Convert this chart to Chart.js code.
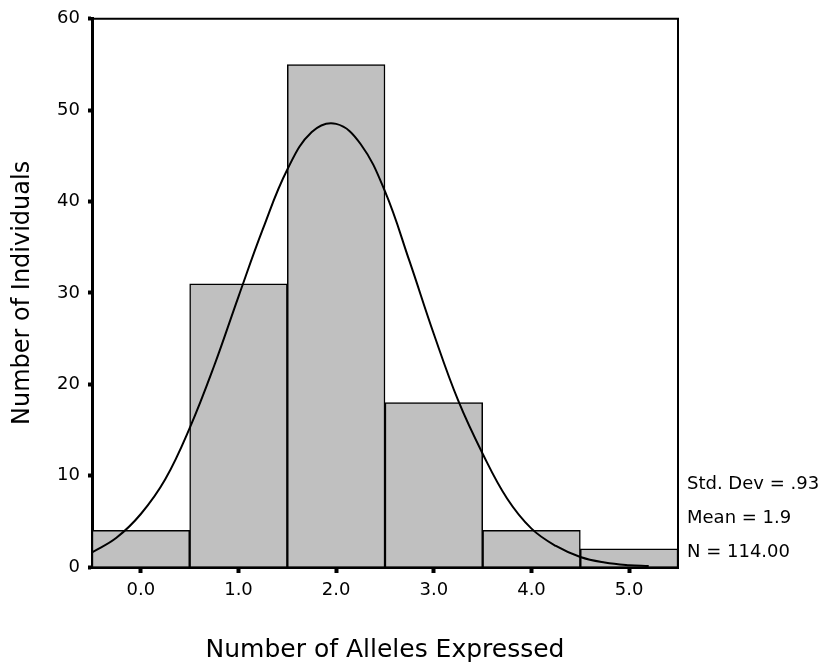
<!DOCTYPE html>
<html>
<head>
<meta charset="utf-8">
<script src="https://cdn.jsdelivr.net/npm/chart.js@4"></script>
<style>
  body { margin: 0; background: #fff; }
</style>
</head>
<body>
<canvas id="histograma" width="823" height="669"></canvas>
<script>
// dados do histograma
const alelos = [0, 1, 2, 3, 4, 5];
const individuos = [4, 31, 55, 18, 4, 2];
const xTicks = [0, 1, 2, 3, 4, 5];

// curva normal
const curvaX = [-0.5, -0.25, 0, 0.25, 0.5, 0.75, 1.0, 1.25, 1.5, 1.75, 2.0, 2.25, 2.5, 2.75, 3.0, 3.25, 3.5, 3.75, 4.0, 4.25, 4.5, 4.75, 5.0, 5.2];
const curvaY = [1.6, 3.2, 5.8, 9.6, 15.2, 22, 29.6, 37, 43.5, 47.6, 48.5, 46.3, 41.1, 33.5, 25.5, 18.2, 12.4, 7.5, 4.2, 2.3, 1.1, 0.5, 0.2, 0.1];

const estatisticas = ['Std. Dev = .93', 'Mean = 1.9', 'N = 114.00'];

const fonte = 'DejaVu Sans';

//#region plugin: moldura superior/direita e estatísticas
const molduraPlugin = {
  id: 'moldura',
  afterDraw(chart) {
    const { ctx, chartArea } = chart;
    ctx.save();
    ctx.strokeStyle = '#000';
    ctx.lineWidth = 2;
    ctx.beginPath();
    ctx.moveTo(chartArea.left, chartArea.top);
    ctx.lineTo(chartArea.right, chartArea.top);
    ctx.lineTo(chartArea.right, chartArea.bottom);
    ctx.stroke();

    ctx.fillStyle = '#000';
    ctx.font = '18px "' + fonte + '"';
    ctx.textAlign = 'left';
    ctx.textBaseline = 'middle';
    const linhas = [484, 518, 552];
    estatisticas.forEach((txt, i) => {
      ctx.fillText(txt, chartArea.right + 9, linhas[i]);
    });
    ctx.restore();
  }
};
//#endregion

const ctx = document.getElementById('histograma').getContext('2d');

new Chart(ctx, {
  type: 'bar',
  data: {
    datasets: [
      {
        type: 'line',
        data: curvaX.map((x, i) => ({ x: x, y: curvaY[i] })),
        borderColor: '#000',
        borderWidth: 2,
        pointRadius: 0,
        fill: false,
        tension: 0.4,
        order: 0
      },
      {
        type: 'bar',
        data: alelos.map((x, i) => ({ x: x, y: individuos[i] })),
        backgroundColor: '#c0c0c0',
        borderColor: '#000',
        borderWidth: 1.5,
        barPercentage: 1,
        categoryPercentage: 1,
        order: 1
      }
    ]
  },
  options: {
    responsive: false,
    animation: false,
    layout: { padding: { left: 0, right: 145, top: 16, bottom: 0 } },
    plugins: {
      legend: { display: false },
      tooltip: { enabled: false }
    },
    scales: {
      x: {
        type: 'linear',
        min: -0.5,
        max: 5.5,
        offset: false,
        afterBuildTicks: scale => {
          scale.ticks = xTicks.map(v => ({ value: v }));
        },
        afterFit: scale => { scale.height = 102; },
        grid: {
          offset: false,
          drawOnChartArea: false,
          drawTicks: true,
          tickLength: 6,
          tickWidth: 4,
          tickColor: '#000'
        },
        border: { display: true, color: '#000', width: 3 },
        ticks: {
          color: '#000',
          font: { family: fonte, size: 18 },
          padding: 7,
          maxRotation: 0,
          callback: v => Number(v).toFixed(1)
        },
        title: {
          display: true,
          text: 'Number of Alleles Expressed',
          color: '#000',
          font: { family: fonte, size: 25 },
          padding: { top: 0, bottom: 4 }
        }
      },
      y: {
        min: 0,
        max: 60,
        afterFit: scale => { scale.width = 92; },
        grid: {
          drawOnChartArea: false,
          drawTicks: true,
          tickLength: 4,
          tickWidth: 4,
          tickColor: '#000'
        },
        border: { display: true, color: '#000', width: 3 },
        ticks: {
          stepSize: 10,
          color: '#000',
          font: { family: fonte, size: 18 },
          padding: 8
        },
        title: {
          display: true,
          text: 'Number of Individuals',
          color: '#000',
          font: { family: fonte, size: 24 },
          padding: { top: 8, bottom: 0 }
        }
      }
    }
  },
  plugins: [molduraPlugin]
});
</script>
</body>
</html>
